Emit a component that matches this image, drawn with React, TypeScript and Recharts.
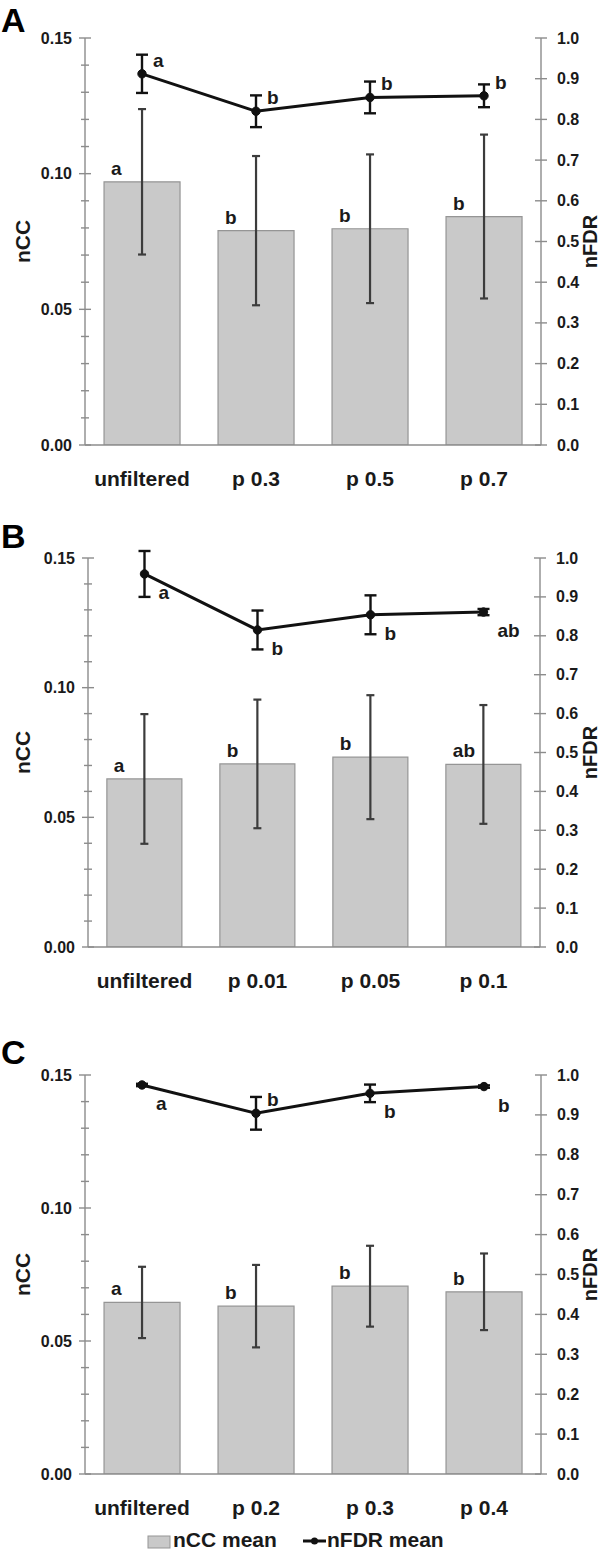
import {
  Bar,
  ComposedChart,
  ErrorBar,
  LabelList,
  Line,
  XAxis,
  YAxis,
} from "recharts";

const FONT = '"Liberation Sans", Arial, Helvetica, sans-serif';
const AXIS = "#8c8c8c";
const INK = "#1a1a1a";
const BAR_FILL = "#c9c9c9";
const BAR_EDGE = "#959595";
const X_AXIS_H = 50;

// A: filtering by p threshold
const labelsA = ["unfiltered", "p 0.3", "p 0.5", "p 0.7"];
const nccA = [0.097, 0.079, 0.0797, 0.0842];
const nccErrA = [0.0268, 0.0275, 0.0274, 0.0302];
const nccGroupsA = ["a", "b", "b", "b"];
const nfdrA = [0.912, 0.82, 0.854, 0.858];
const nfdrErrA = [0.047, 0.039, 0.039, 0.028];
const nfdrGroupsA = ["a", "b", "b", "b"];

// B
const labelsB = ["unfiltered", "p 0.01", "p 0.05", "p 0.1"];
const nccB = [0.0648, 0.0706, 0.0732, 0.0704];
const nccErrB = [0.025, 0.0248, 0.0239, 0.0229];
const nccGroupsB = ["a", "b", "b", "ab"];
const nfdrB = [0.959, 0.815, 0.854, 0.861];
const nfdrErrB = [0.059, 0.05, 0.05, 0.008];
const nfdrGroupsB = ["a", "b", "b", "ab"];

// C
const labelsC = ["unfiltered", "p 0.2", "p 0.3", "p 0.4"];
const nccC = [0.0645, 0.0631, 0.0706, 0.0685];
const nccErrC = [0.0134, 0.0155, 0.0152, 0.0144];
const nccGroupsC = ["a", "b", "b", "b"];
const nfdrC = [0.975, 0.904, 0.954, 0.971];
const nfdrErrC = [0.003, 0.041, 0.022, 0.003];
const nfdrGroupsC = ["a", "b", "b", "b"];

const nccTicks = [0, 0.01, 0.02, 0.03, 0.04, 0.05, 0.06, 0.07, 0.08, 0.09, 0.1, 0.11, 0.12, 0.13, 0.14, 0.15];
const nfdrTicks = [0, 0.1, 0.2, 0.3, 0.4, 0.5, 0.6, 0.7, 0.8, 0.9, 1.0];

type Spot = "above" | "below";

type PanelSpec = {
  letter: string;
  top: number;
  height: number;
  plotTop: number;
  plotHeight: number;
  left: number;
  right: number;
  labels: string[];
  ncc: number[];
  nccErr: number[];
  nccGroups: string[];
  nfdr: number[];
  nfdrErr: number[];
  nfdrGroups: string[];
  spots: Spot[];
};

const panels: PanelSpec[] = [
  {
    letter: "A", top: 0, height: 500, plotTop: 38, plotHeight: 407, left: 85, right: 59,
    labels: labelsA, ncc: nccA, nccErr: nccErrA, nccGroups: nccGroupsA,
    nfdr: nfdrA, nfdrErr: nfdrErrA, nfdrGroups: nfdrGroupsA,
    spots: ["above", "above", "above", "above"],
  },
  {
    letter: "B", top: 500, height: 500, plotTop: 58, plotHeight: 389, left: 88, right: 60,
    labels: labelsB, ncc: nccB, nccErr: nccErrB, nccGroups: nccGroupsB,
    nfdr: nfdrB, nfdrErr: nfdrErrB, nfdrGroups: nfdrGroupsB,
    spots: ["below", "below", "below", "below"],
  },
  {
    letter: "C", top: 1000, height: 553, plotTop: 75, plotHeight: 399, left: 85, right: 59,
    labels: labelsC, ncc: nccC, nccErr: nccErrC, nccGroups: nccGroupsC,
    nfdr: nfdrC, nfdrErr: nfdrErrC, nfdrGroups: nfdrGroupsC,
    spots: ["below", "above", "below", "below"],
  },
];

const textStyle = { fontFamily: FONT, fontWeight: 700, fill: INK };

function LeftTick({ x, y, payload }: any) {
  const v = payload.value as number;
  const major = Math.abs(v / 0.05 - Math.round(v / 0.05)) < 1e-6;
  const h = major ? 6 : 4;
  return (
    <g>
      <line x1={x - h} x2={x + h} y1={y} y2={y} stroke={AXIS} strokeWidth={1.4} />
      {major && (
        <text x={x - 13} y={y + 5.5} textAnchor="end" fontSize={16} {...textStyle}>
          {v.toFixed(2)}
        </text>
      )}
    </g>
  );
}

function RightTick({ x, y, payload }: any) {
  const v = payload.value as number;
  return (
    <g>
      <line x1={x - 6} x2={x + 6} y1={y} y2={y} stroke={AXIS} strokeWidth={1.4} />
      <text x={x + 16} y={y + 5.5} textAnchor="start" fontSize={16} {...textStyle}>
        {v.toFixed(1)}
      </text>
    </g>
  );
}

function CategoryTick({ x, y, payload }: any) {
  return (
    <text x={x} y={y + 40.5} textAnchor="middle" fontSize={21} {...textStyle}>
      {payload.value}
    </text>
  );
}

function AxisTitle({ viewBox, text, cx, size }: any) {
  const vb = viewBox ?? { x: 0, y: 0, height: 0 };
  const tx = vb.x + cx;
  const ty = vb.y + vb.height / 2;
  return (
    <text
      x={tx}
      y={ty}
      transform={`rotate(-90 ${tx} ${ty})`}
      textAnchor="middle"
      dominantBaseline="central"
      fontSize={size}
      {...textStyle}
    >
      {text}
    </text>
  );
}

function Panel({ p }: { p: PanelSpec }) {
  const data = p.labels.map((name, i) => ({
    name,
    ncc: p.ncc[i],
    nccErr: p.nccErr[i],
    nccGroup: p.nccGroups[i],
    nfdr: p.nfdr[i],
    nfdrErr: p.nfdrErr[i],
    nfdrGroup: p.nfdrGroups[i],
  }));
  const bottom = p.height - p.plotTop - p.plotHeight - X_AXIS_H;

  return (
    <div style={{ position: "absolute", left: 0, top: p.top }}>
      <ComposedChart
        width={600}
        height={p.height}
        data={data}
        margin={{ top: p.plotTop, right: 0, bottom, left: 0 }}
        barCategoryGap="16.7%"
      >
        <XAxis
          dataKey="name"
          height={X_AXIS_H}
          interval={0}
          tickSize={0}
          tickMargin={0}
          tickLine={false}
          axisLine={{ stroke: AXIS, strokeWidth: 1.4 }}
          tick={<CategoryTick />}
        />
        <YAxis
          yAxisId="ncc"
          orientation="left"
          width={p.left}
          domain={[0, 0.15]}
          ticks={nccTicks}
          allowDataOverflow
          interval={0}
          tickSize={0}
          tickMargin={0}
          tickLine={false}
          axisLine={{ stroke: AXIS, strokeWidth: 1.4 }}
          tick={<LeftTick />}
          label={<AxisTitle text="nCC" cx={22} size={21} />}
        />
        <YAxis
          yAxisId="nfdr"
          orientation="right"
          width={p.right}
          domain={[0, 1]}
          ticks={nfdrTicks}
          allowDataOverflow
          interval={0}
          tickSize={0}
          tickMargin={0}
          tickLine={false}
          axisLine={{ stroke: AXIS, strokeWidth: 1.4 }}
          tick={<RightTick />}
          label={<AxisTitle text="nFDR" cx={p.right - 10} size={20} />}
        />
        <Bar
          yAxisId="ncc"
          dataKey="ncc"
          name="nCC mean"
          fill={BAR_FILL}
          stroke={BAR_EDGE}
          strokeWidth={1.2}
          isAnimationActive={false}
        >
          <ErrorBar dataKey="nccErr" width={4} stroke="#3c3c3c" strokeWidth={2.2} direction="y" />
          <LabelList
            dataKey="nccGroup"
            content={(lp: any) => (
              <text x={lp.x + 7} y={lp.y - 7} fontSize={19} {...textStyle}>
                {lp.value}
              </text>
            )}
          />
        </Bar>
        <Line
          yAxisId="nfdr"
          dataKey="nfdr"
          name="nFDR mean"
          type="linear"
          stroke="#111"
          strokeWidth={3}
          dot={{ r: 4.2, fill: "#111", stroke: "#111", strokeWidth: 1 }}
          activeDot={false}
          isAnimationActive={false}
        >
          <ErrorBar dataKey="nfdrErr" width={6} stroke="#111" strokeWidth={2.4} direction="y" />
          <LabelList
            dataKey="nfdrGroup"
            content={(lp: any) => {
              const below = p.spots[lp.index] === "below";
              return (
                <text
                  x={lp.x + (below ? 14 : 11)}
                  y={lp.y + (below ? 25 : -7)}
                  fontSize={19}
                  {...textStyle}
                >
                  {lp.value}
                </text>
              );
            }}
          />
        </Line>
      </ComposedChart>
    </div>
  );
}

const letterBaselines = [32, 548, 1064];

export default function App() {
  return (
    <div
      style={{
        position: "absolute",
        left: 0,
        top: 0,
        width: 600,
        height: 1553,
        background: "#fff",
        overflow: "hidden",
      }}
    >
      {panels.map((p) => (
        <Panel key={p.letter} p={p} />
      ))}
      <svg
        width={600}
        height={1553}
        style={{ position: "absolute", left: 0, top: 0, pointerEvents: "none" }}
      >
        {panels.map((p, i) => (
          <text key={p.letter} x={1} y={letterBaselines[i]} fontSize={34} {...textStyle} fill="#000">
            {p.letter}
          </text>
        ))}
        {/* legend */}
        <rect x={148} y={1536} width={22} height={12} fill={BAR_FILL} stroke={BAR_EDGE} strokeWidth={1} />
        <text x={173} y={1547} fontSize={21} {...textStyle}>
          nCC mean
        </text>
        <line x1={303} x2={326} y1={1541} y2={1541} stroke="#111" strokeWidth={3} />
        <circle cx={314.5} cy={1541} r={3.5} fill="#111" />
        <text x={327} y={1547} fontSize={21} {...textStyle}>
          nFDR mean
        </text>
      </svg>
    </div>
  );
}
